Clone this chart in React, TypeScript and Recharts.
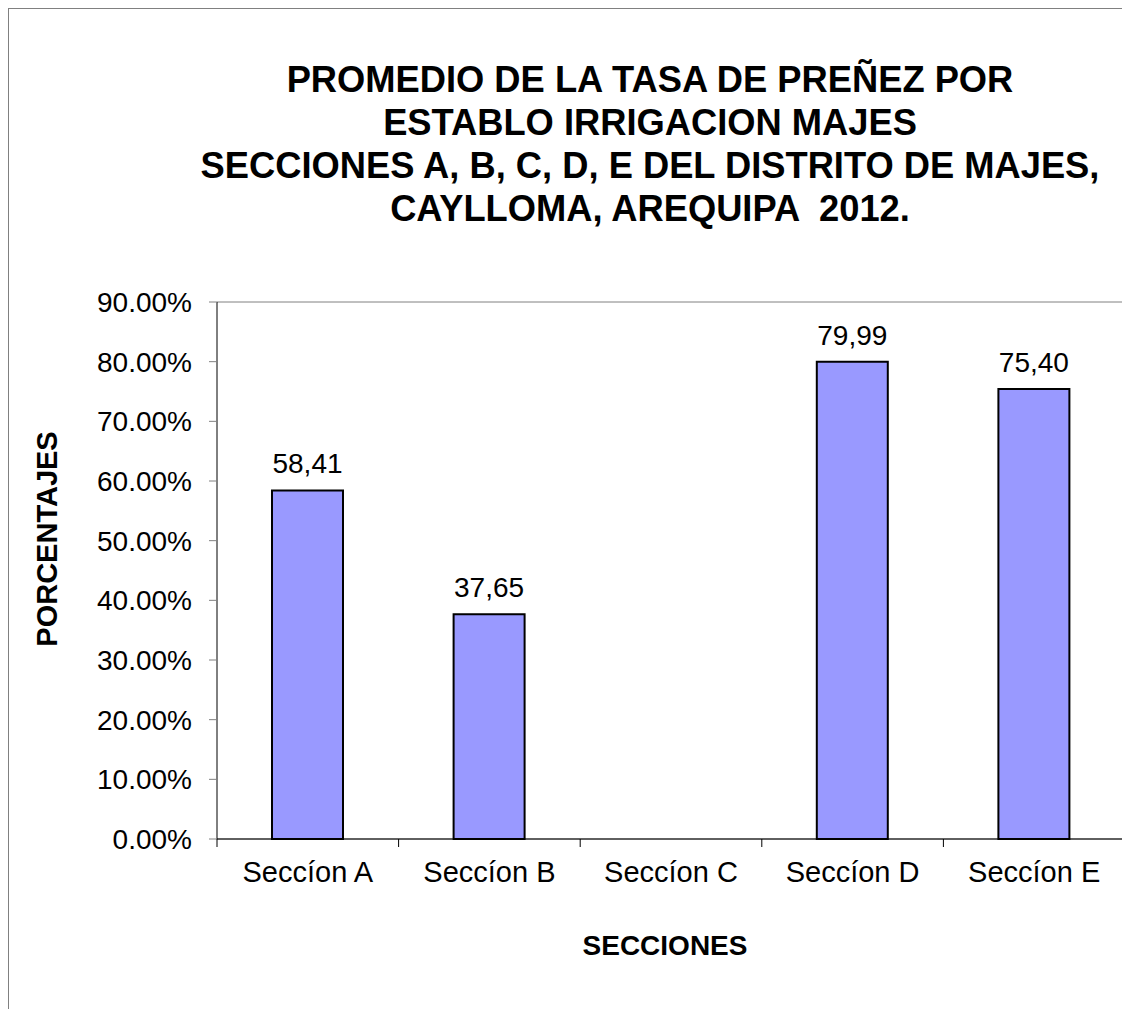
import React from 'react';
import { BarChart, Bar, XAxis, YAxis, CartesianGrid, LabelList } from 'recharts';

const categories = ['Seccíon A', 'Seccíon B', 'Seccíon C', 'Seccíon D', 'Seccíon E'];
const tasaPrenez = [58.41, 37.65, null, 79.99, 75.4];
const yTicks = [0, 10, 20, 30, 40, 50, 60, 70, 80, 90];

const titleLines = [
  'PROMEDIO DE LA TASA DE PREÑEZ POR',
  'ESTABLO IRRIGACION MAJES',
  'SECCIONES A, B, C, D, E DEL DISTRITO DE MAJES,',
  'CAYLLOMA, AREQUIPA  2012.',
];

const data = categories.map((name, i) => ({ name, tasa: tasaPrenez[i] }));

const FONT = '"Liberation Sans", Arial, sans-serif';
const CHART_W = 1121;
const CHART_H = 1000;
const MARGIN = { top: 293, right: 5, bottom: 110, left: 128 };
const Y_AXIS_W = 80;
const X_AXIS_H = 60;
const BAND = (CHART_W - MARGIN.left - MARGIN.right - Y_AXIS_W) / categories.length;

const XTick = (props: any) => {
  const { x, y, payload, index } = props;
  const left = x - BAND / 2;
  const right = x + BAND / 2;
  return (
    <g>
      <line x1={left} x2={left} y1={y} y2={y + 8} stroke="#000" />
      {index === categories.length - 1 && (
        <line x1={right} x2={right} y1={y} y2={y + 8} stroke="#808080" />
      )}
      <text x={x} y={y + 43} textAnchor="middle" fontSize={29} fill="#000" fontFamily={FONT}>
        {payload.value}
      </text>
    </g>
  );
};

const fmtPct = (v: number) => v.toFixed(2) + '%';
const fmtLabel = (v: any) => (v == null ? '' : Number(v).toFixed(2).replace('.', ','));

export default function App() {
  return (
    <div
      style={{
        position: 'relative',
        width: CHART_W,
        height: CHART_H,
        borderLeft: '1px solid #808080',
        borderTop: '1px solid #808080',
        fontFamily: FONT,
        background: '#fff',
      }}
    >
      <div
        style={{
          position: 'absolute',
          left: 141,
          top: 49,
          width: 1000,
          textAlign: 'center',
          fontWeight: 'bold',
          fontSize: 36.3,
          lineHeight: '43px',
          whiteSpace: 'pre',
          color: '#000',
        }}
      >
        {titleLines.map((l) => (
          <div key={l}>{l}</div>
        ))}
      </div>
      <div
        style={{
          position: 'absolute',
          left: 38,
          top: 530,
          transform: 'translate(-50%, -50%) rotate(-90deg)',
          fontWeight: 'bold',
          fontSize: 29,
          lineHeight: 1,
          whiteSpace: 'nowrap',
        }}
      >
        PORCENTAJES
      </div>
      <div
        style={{
          position: 'absolute',
          left: 656,
          top: 937,
          transform: 'translate(-50%, -50%)',
          fontWeight: 'bold',
          fontSize: 28,
          lineHeight: 1,
          whiteSpace: 'nowrap',
        }}
      >
        SECCIONES
      </div>
      <div style={{ position: 'absolute', left: 0, top: 0 }}>
        <BarChart width={CHART_W} height={CHART_H} data={data} margin={MARGIN}>
          <CartesianGrid vertical={false} stroke="#808080" />
          <XAxis
            dataKey="name"
            height={X_AXIS_H}
            interval={0}
            tickSize={0}
            tickMargin={0}
            tickLine={false}
            axisLine={{ stroke: '#000' }}
            tick={<XTick />}
          />
          <YAxis
            yAxisId="left"
            width={Y_AXIS_W}
            domain={[0, 90]}
            ticks={yTicks}
            interval={0}
            tickFormatter={fmtPct}
            tickSize={8}
            tickMargin={17}
            axisLine={{ stroke: '#000' }}
            tickLine={{ stroke: '#808080' }}
            tick={{ fontSize: 28, fill: '#000', fontFamily: FONT }}
          />
          <YAxis
            yAxisId="right"
            orientation="right"
            width={0}
            domain={[0, 90]}
            ticks={yTicks}
            tick={false}
            tickLine={false}
            axisLine={{ stroke: '#808080' }}
          />
          <Bar
            yAxisId="left"
            dataKey="tasa"
            fill="#9999FF"
            stroke="#000"
            strokeWidth={2}
            barSize={71}
            isAnimationActive={false}
          >
            <LabelList
              dataKey="tasa"
              position="top"
              offset={17}
              formatter={fmtLabel}
              style={{ fontSize: 28, fill: '#000', fontFamily: FONT }}
            />
          </Bar>
        </BarChart>
      </div>
    </div>
  );
}
